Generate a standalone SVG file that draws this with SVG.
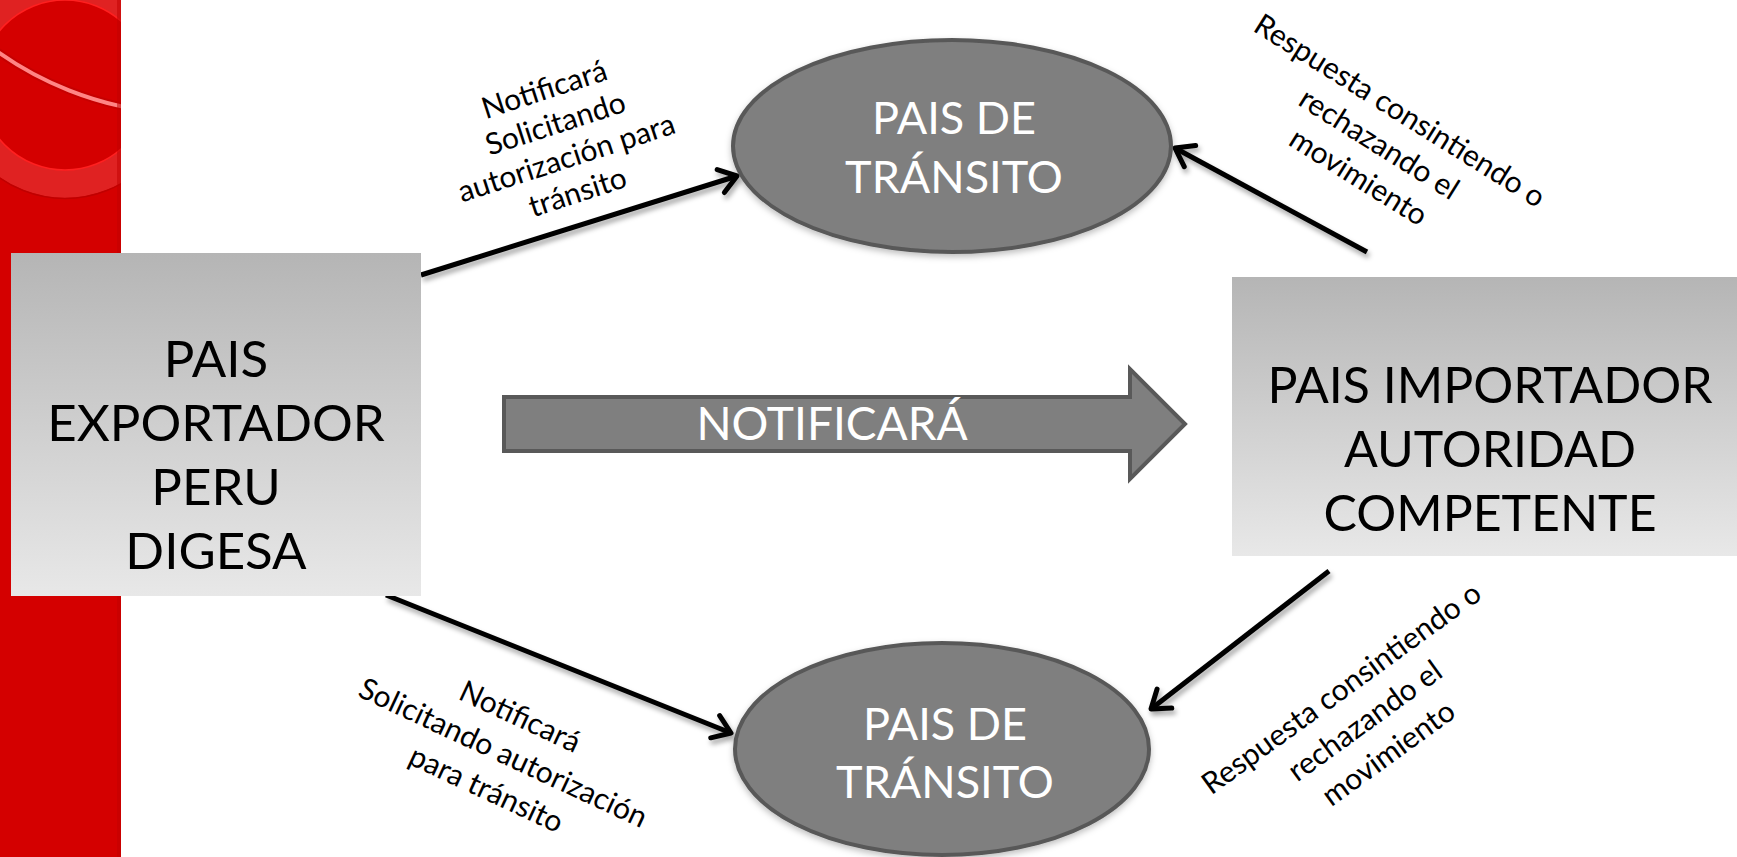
<svg xmlns="http://www.w3.org/2000/svg" width="1737" height="857" viewBox="0 0 1737 857">
<defs>
  <linearGradient id="boxg" x1="0" y1="0" x2="0" y2="1">
    <stop offset="0" stop-color="#b5b5b5"/>
    <stop offset="1" stop-color="#e8e8e8"/>
  </linearGradient>
  <clipPath id="barclip"><rect x="0" y="0" width="121" height="857"/></clipPath>
  <filter id="sh" x="-20%" y="-20%" width="140%" height="140%">
    <feDropShadow dx="2" dy="4" stdDeviation="2.5" flood-color="#000" flood-opacity="0.35"/>
  </filter>
  <filter id="esh" x="-10%" y="-10%" width="120%" height="130%">
    <feDropShadow dx="0" dy="3" stdDeviation="3" flood-color="#000" flood-opacity="0.25"/>
  </filter>
  <marker id="ah" viewBox="-26 -16 32 32" refX="0" refY="0" markerWidth="32" markerHeight="32" markerUnits="userSpaceOnUse" orient="auto">
    <path d="M-17,-12 L0,0 L-17,12" fill="none" stroke="#000" stroke-width="5" stroke-linecap="round" stroke-linejoin="round"/>
  </marker>
  <style>
    .big { font-family: Lato, "Liberation Sans", sans-serif; font-size: 51px; fill: #000; text-anchor: middle; }
    .ell { font-family: Lato, "Liberation Sans", sans-serif; font-size: 45px; fill: #fff; text-anchor: middle; }
    .lbl { font-family: Lato, "Liberation Sans", sans-serif; font-size: 30px; fill: #000; text-anchor: middle; }
    .conn { stroke: #000; stroke-width: 5; fill: none; marker-end: url(#ah); }
    .shape { fill: #7f7f7f; stroke: #595959; stroke-width: 4; }
  </style>
</defs>

<rect x="0" y="0" width="1737" height="857" fill="#fff"/>

<g id="redbar">
  <rect x="0" y="0" width="121" height="857" fill="#d40000"/>
  <g clip-path="url(#barclip)">
    <circle cx="65" cy="85" r="99" fill="none" stroke="#e02222" stroke-width="28"/>
    <circle cx="65" cy="85" r="85" fill="none" stroke="#ff2020" stroke-width="1.5"/>
    <circle cx="65" cy="85" r="113.5" fill="none" stroke="#c00000" stroke-width="1.5"/>
    <circle cx="193" cy="-223" r="337" fill="none" stroke="#b80000" stroke-width="8" opacity="0.5"/>
    <circle cx="193" cy="-223" r="337" fill="none" stroke="#ff8585" stroke-width="4"/>
    <rect x="117" y="0" width="4" height="857" fill="#c00000" opacity="0.5"/>
  </g>
</g>

<g id="connectors" filter="url(#sh)">
  <line class="conn" x1="421" y1="275" x2="737" y2="176"/>
  <line class="conn" x1="1367" y1="252" x2="1175" y2="148"/>
  <line class="conn" x1="386" y1="595" x2="731" y2="733"/>
  <line class="conn" x1="1329" y1="571" x2="1151" y2="709"/>
</g>

<g id="exportador">
  <rect x="11" y="253" width="410" height="343" fill="url(#boxg)"/>
  <text class="big" x="216" y="377">PAIS</text>
  <text class="big" x="216" y="441">EXPORTADOR</text>
  <text class="big" x="216" y="505">PERU</text>
  <text class="big" x="216" y="569">DIGESA</text>
</g>

<g id="importador">
  <rect x="1232" y="277" width="505" height="279" fill="url(#boxg)"/>
  <text class="big" x="1490" y="403" style="font-size:50px">PAIS IMPORTADOR</text>
  <text class="big" x="1490" y="467" style="font-size:50px">AUTORIDAD</text>
  <text class="big" x="1490" y="531" style="font-size:50px">COMPETENTE</text>
</g>

<g id="transito-top">
  <ellipse class="shape" cx="952" cy="146" rx="219" ry="106" filter="url(#esh)"/>
  <text class="ell" x="954" y="134">PAIS DE</text>
  <text class="ell" x="954" y="193">TRÁNSITO</text>
</g>

<g id="transito-bottom">
  <ellipse class="shape" cx="942" cy="749" rx="207" ry="106" filter="url(#esh)"/>
  <text class="ell" x="945" y="740">PAIS DE</text>
  <text class="ell" x="945" y="798">TRÁNSITO</text>
</g>

<g id="notificara-arrow">
  <polygon class="shape" points="504,397 1130,397 1130,369 1185,424 1130,479 1130,451 504,451"/>
  <text class="ell" x="832" y="440" style="font-size:46px">NOTIFICARÁ</text>
</g>

<g id="label-top-left" transform="translate(561,141) rotate(-18)">
  <text class="lbl" x="0" y="-44">Notificará</text>
  <text class="lbl" x="0" y="-8">Solicitando</text>
  <text class="lbl" x="0" y="28">autorización para</text>
  <text class="lbl" x="0" y="64">tránsito</text>
</g>

<g id="label-top-right" transform="translate(1379,144) rotate(32)">
  <text class="lbl" x="0" y="-29">Respuesta consintiendo o</text>
  <text class="lbl" x="0" y="10">rechazando el</text>
  <text class="lbl" x="0" y="49">movimiento</text>
</g>

<g id="label-bottom-left" transform="translate(503,753) rotate(25)">
  <text class="lbl" x="0" y="-30">Notificará</text>
  <text class="lbl" x="0" y="10">Solicitando autorización</text>
  <text class="lbl" x="0" y="50">para tránsito</text>
</g>

<g id="label-bottom-right" transform="translate(1365,721) rotate(-36)">
  <text class="lbl" x="0" y="-30">Respuesta consintiendo o</text>
  <text class="lbl" x="0" y="10">rechazando el</text>
  <text class="lbl" x="0" y="50">movimiento</text>
</g>
</svg>
